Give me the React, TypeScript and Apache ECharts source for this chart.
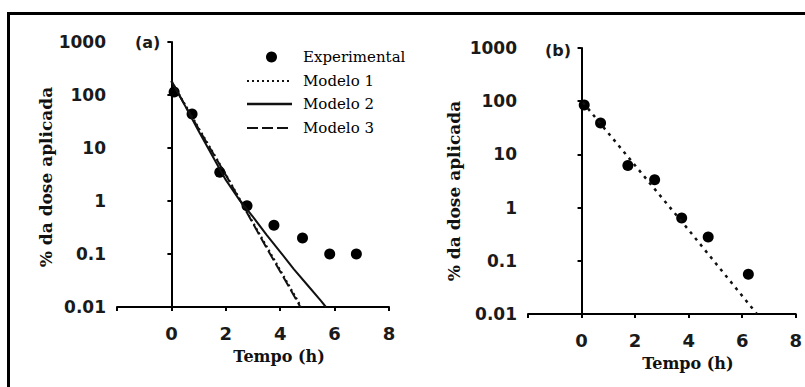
import React, { useEffect, useRef } from "react";
import * as echarts from "echarts";

// Panel (a)
const timeA = [0.1, 0.76, 1.78, 2.78, 3.77, 4.82, 5.82, 6.8];
const expA = [114, 44, 3.5, 0.81, 0.35, 0.2, 0.1, 0.1];
const model1TimeA = [0, 1, 2, 2.78, 3.5, 4.2, 4.78];
const model1A = [185, 24, 3.2, 0.62, 0.14, 0.033, 0.01];
const model2TimeA = [0, 0.5, 1, 1.5, 2, 2.5, 3, 3.5, 4, 4.5, 5, 5.5, 5.68];
const model2A = [185, 63, 21, 7.2, 2.5, 1.05, 0.5, 0.23, 0.11, 0.052, 0.026, 0.013, 0.01];
const model3TimeA = [0, 1, 2, 2.78, 3.5, 4.2, 4.74];
const model3A = [180, 23, 3.1, 0.6, 0.13, 0.031, 0.01];

// Panel (b)
const timeB = [0.1, 0.71, 1.73, 2.73, 3.74, 4.73, 6.23];
const expB = [85, 39, 6.2, 3.35, 0.64, 0.28, 0.056];
const modelTimeB = [0.05, 2, 4, 6.55];
const modelB = [95, 6.2, 0.38, 0.01];

const xTicks = { min: -2, max: 8, interval: 2 };
const yRange = { min: 0.01, max: 1000 };

const seriesNames = ["Experimental", "Modelo 1", "Modelo 2", "Modelo 3"];

const zip = (xs: number[], ys: number[]) => xs.map((x, i) => [x, ys[i]]);

const SERIF = "DejaVu Serif";
const SANS = "DejaVu Sans";

const DOT = [2, 3];
const DASH = [11, 4];

export default function App() {
  const ref = useRef<HTMLDivElement>(null);
  useEffect(() => {
    if (!ref.current) return;
    const chart = echarts.init(ref.current, undefined, { renderer: "svg" });
    const axisLine = { lineStyle: { color: "#000", width: 2 } };
    const xAxisCommon = (gridIndex: number) => ({
      gridIndex,
      type: "value",
      min: xTicks.min,
      max: xTicks.max,
      interval: xTicks.interval,
      name: "Tempo (h)",
      nameLocation: "middle",
      nameGap: 41,
      nameTextStyle: {
        fontFamily: SERIF,
        fontWeight: "bold",
        fontSize: 16,
        color: "#111",
        padding: [0, 0, 0, 52],
      },
      axisLine: { show: true, ...axisLine },
      axisTick: { show: true, length: 4, lineStyle: { color: "#000", width: 2 } },
      axisLabel: {
        margin: 17,
        fontFamily: SANS,
        fontWeight: "bold",
        fontSize: 18,
        color: "#1a1a1a",
        showMinLabel: true,
        showMaxLabel: true,
        formatter: (v: number) => (v === xTicks.min ? "" : String(v)),
      },
      splitLine: { show: false },
    });
    const yAxisCommon = (gridIndex: number, gap: number, pad: number) => ({
      gridIndex,
      type: "log",
      logBase: 10,
      min: yRange.min,
      max: yRange.max,
      name: "% da dose aplicada",
      nameLocation: "middle",
      nameGap: gap,
      nameTextStyle: {
        fontFamily: SERIF,
        fontWeight: "bold",
        fontSize: 17,
        color: "#111",
        padding: [0, pad, 0, 0],
      },
      axisLine: { show: true, ...axisLine },
      axisTick: { show: true, length: 4, lineStyle: { color: "#000", width: 2 } },
      minorTick: { show: false },
      axisLabel: {
        margin: 11,
        fontFamily: SANS,
        fontWeight: "bold",
        fontSize: 17,
        color: "#1a1a1a",
        showMinLabel: true,
        showMaxLabel: true,
        formatter: (v: number) => String(Number(v.toPrecision(2))),
      },
      splitLine: { show: false },
    });

    const legendRows = [57, 81, 104, 128];
    const legendX0 = 247;
    const legendX1 = 292;
    const legendTextX = 303;

    chart.setOption({
      animation: false,
      backgroundColor: "#ffffff",
      grid: [
        { left: 117, top: 42, width: 272, height: 265 },
        { left: 528, top: 48, width: 272, height: 266 },
      ],
      xAxis: [xAxisCommon(0), xAxisCommon(1)],
      yAxis: [yAxisCommon(0, 61, 5), yAxisCommon(1, 66, 20)],
      series: [
        {
          name: "Modelo 1",
          type: "line",
          xAxisIndex: 0,
          yAxisIndex: 0,
          data: zip(model1TimeA, model1A),
          symbol: "none",
          lineStyle: { color: "#111", width: 2, type: DOT },
        },
        {
          name: "Modelo 2",
          type: "line",
          xAxisIndex: 0,
          yAxisIndex: 0,
          data: zip(model2TimeA, model2A),
          symbol: "none",
          lineStyle: { color: "#111", width: 2, type: "solid" },
        },
        {
          name: "Modelo 3",
          type: "line",
          xAxisIndex: 0,
          yAxisIndex: 0,
          data: zip(model3TimeA, model3A),
          symbol: "none",
          lineStyle: { color: "#111", width: 2, type: DASH },
        },
        {
          name: "Experimental",
          type: "scatter",
          xAxisIndex: 0,
          yAxisIndex: 0,
          data: zip(timeA, expA),
          symbol: "circle",
          symbolSize: 11,
          itemStyle: { color: "#000", opacity: 1 },
        },
        {
          name: "Modelo 1 (b)",
          type: "line",
          xAxisIndex: 1,
          yAxisIndex: 1,
          data: zip(modelTimeB, modelB),
          symbol: "none",
          lineStyle: { color: "#111", width: 2.5, type: [3, 5] },
        },
        {
          name: "Experimental (b)",
          type: "scatter",
          xAxisIndex: 1,
          yAxisIndex: 1,
          data: zip(timeB, expB),
          symbol: "circle",
          symbolSize: 11,
          itemStyle: { color: "#000", opacity: 1 },
        },
      ],
      graphic: [
        { type: "rect", shape: { x: 7, y: 12, width: 800, height: 3 }, style: { fill: "#000" } },
        { type: "rect", shape: { x: 7, y: 12, width: 3, height: 380 }, style: { fill: "#000" } },
        {
          type: "text",
          x: 135,
          y: 42,
          style: { text: "(a)", fontFamily: SANS, fontWeight: "bold", fontSize: 16, fill: "#1a1a1a", verticalAlign: "middle" },
        },
        {
          type: "text",
          x: 545,
          y: 50,
          style: { text: "(b)", fontFamily: SANS, fontWeight: "bold", fontSize: 16, fill: "#1a1a1a", verticalAlign: "middle" },
        },
        // legend
        {
          type: "circle",
          shape: { cx: (legendX0 + legendX1) / 2 + 2, cy: legendRows[0], r: 5.5 },
          style: { fill: "#000" },
        },
        {
          type: "line",
          shape: { x1: legendX0, y1: legendRows[1], x2: legendX1, y2: legendRows[1] },
          style: { stroke: "#111", lineWidth: 2, lineDash: DOT },
        },
        {
          type: "line",
          shape: { x1: legendX0, y1: legendRows[2], x2: legendX1, y2: legendRows[2] },
          style: { stroke: "#111", lineWidth: 2.5 },
        },
        {
          type: "line",
          shape: { x1: legendX0, y1: legendRows[3], x2: legendX1, y2: legendRows[3] },
          style: { stroke: "#111", lineWidth: 2, lineDash: DASH },
        },
        ...seriesNames.map((name, i) => ({
          type: "text",
          x: legendTextX,
          y: legendRows[i],
          style: {
            text: name,
            fontFamily: SERIF,
            fontSize: 15,
            fill: "#000",
            verticalAlign: "middle",
          },
        })),
      ],
    });
    return () => chart.dispose();
  }, []);
  return (
    <div
      ref={ref}
      style={{ position: "fixed", left: 0, top: 0, width: 805, height: 387, background: "#fff" }}
    />
  );
}
